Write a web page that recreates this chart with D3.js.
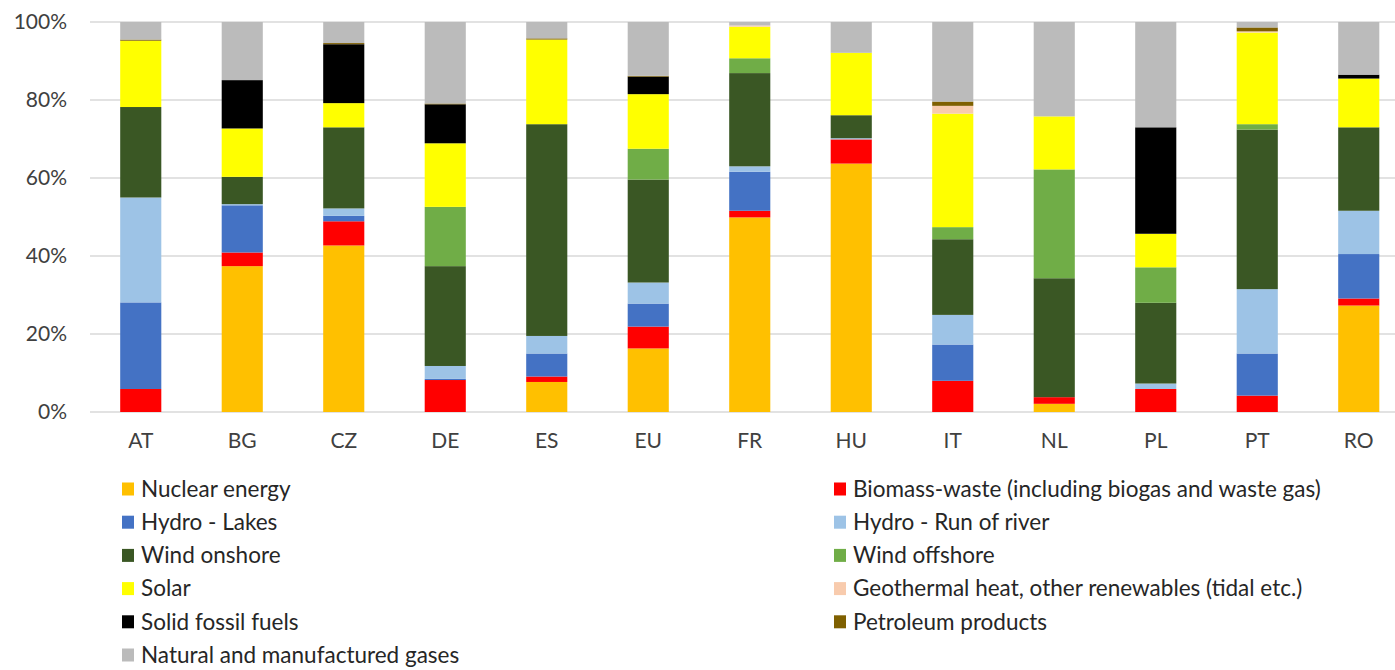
<!DOCTYPE html>
<html>
<head>
<meta charset="utf-8">
<script src="https://cdn.jsdelivr.net/npm/d3@7"></script>
<style>
  html, body { margin: 0; padding: 0; background: #fff; }
  svg { display: block; }
  text { font-family: "Lato", "Liberation Sans", sans-serif; }
</style>
</head>
<body>
<svg id="chart" width="1395" height="670"></svg>
<script>
// ---------- DATA ----------
const categories = ["AT","BG","CZ","DE","ES","EU","FR","HU","IT","NL","PL","PT","RO"];
const seriesNames = [
  "Nuclear energy",
  "Biomass-waste (including biogas and waste gas)",
  "Hydro - Lakes",
  "Hydro - Run of river",
  "Wind onshore",
  "Wind offshore",
  "Solar",
  "Geothermal heat, other renewables (tidal etc.)",
  "Solid fossil fuels",
  "Petroleum products",
  "Natural and manufactured gases"
];
const seriesColors = ["#FFC000","#FF0000","#4472C4","#9DC3E6","#3A5724","#70AD47","#FFFF00","#F8CBAD","#000000","#7F6000","#BBBBBB"];
//                    AT    BG    CZ    DE    ES    EU    FR    HU    IT    NL    PL    PT    RO
const nuclear      = [0.0, 37.4, 42.7,  0.0,  7.7, 16.3, 49.9, 63.7,  0.0,  2.1,  0.0,  0.0, 27.3];
const biomass      = [5.9,  3.5,  6.2,  8.2,  1.4,  5.6,  1.7,  6.2,  8.0,  1.7,  5.9,  4.2,  1.8];
const hydroLakes   = [22.2,12.1,  1.4,  0.3,  5.9,  5.9, 10.0,  0.0,  9.3,  0.0,  0.0, 10.8, 11.4];
const hydroRiver   = [26.9, 0.3,  1.9,  3.3,  4.5,  5.4,  1.4,  0.3,  7.6,  0.0,  1.4, 16.5, 11.1];
const windOnshore  = [23.2, 7.0, 20.8, 25.6, 54.3, 26.4, 23.9,  5.9, 19.4, 30.5, 20.7, 40.9, 21.4];
const windOffshore = [0.0,  0.0,  0.0, 15.2,  0.0,  7.9,  3.8,  0.0,  3.1, 27.9,  9.1,  1.4,  0.0];
const solar        = [17.0,12.4,  6.2, 16.3, 21.7, 14.0,  8.1, 16.0, 29.1, 13.6,  8.6, 23.5, 12.5];
const geothermal   = [0.0,  0.0,  0.0,  0.0,  0.0,  0.0,  0.3,  0.0,  2.0,  0.0,  0.0,  0.3,  0.0];
const solidFossil  = [0.0, 12.4, 15.1, 10.0,  0.0,  4.5,  0.0,  0.0,  0.0,  0.0, 27.3,  0.0,  1.0];
const petroleum    = [0.3,  0.0,  0.3,  0.2,  0.3,  0.2,  0.0,  0.0,  1.1,  0.0,  0.0,  1.0,  0.0];
const gases        = [4.5, 14.9,  5.4, 20.9,  4.2, 13.8,  0.9,  7.9, 20.4, 24.2, 27.0,  1.4, 13.5];
const yTicks = [0, 20, 40, 60, 80, 100];

const seriesValues = [nuclear, biomass, hydroLakes, hydroRiver, windOnshore, windOffshore, solar, geothermal, solidFossil, petroleum, gases];

// ---------- TABLE ----------
const table = categories.map((c, i) => {
  const row = { cat: c };
  seriesNames.forEach((s, k) => { row[s] = seriesValues[k][i]; });
  return row;
});

// ---------- CHART ----------
const svg = d3.select("#chart");
const plotLeft = 90, plotRight = 1409.5, plotTop = 22, plotBottom = 412;

const x = d3.scaleBand().domain(categories).range([plotLeft, plotRight]).paddingInner(0.595).paddingOuter(0.2975);
const y = d3.scaleLinear().domain([0, 100]).range([plotBottom, plotTop]);

// gridlines
svg.append("g").selectAll("line").data(yTicks).join("line")
  .attr("x1", plotLeft).attr("x2", 1395)
  .attr("y1", d => y(d)).attr("y2", d => y(d))
  .attr("stroke", "#d9d9d9").attr("stroke-width", 1.5);

// y axis labels
const yAxis = d3.axisLeft(y).tickValues(yTicks).tickFormat(d => d + "%").tickSize(0).tickPadding(0);
const gy = svg.append("g").attr("transform", "translate(67,0)").call(yAxis);
gy.select(".domain").remove();
gy.selectAll("text").attr("font-size", 21).attr("fill", "#404040").attr("font-family", "Lato, sans-serif");

// bars
const stack = d3.stack().keys(seriesNames);
const stacked = stack(table);
svg.append("g").selectAll("g").data(stacked).join("g")
  .attr("fill", (d, i) => seriesColors[i])
  .selectAll("rect").data(d => d).join("rect")
  .attr("x", d => x(d.data.cat))
  .attr("width", x.bandwidth())
  .attr("y", d => y(d[1]))
  .attr("height", d => Math.max(0, y(d[0]) - y(d[1])));

// x axis labels
const xAxis = d3.axisBottom(x).tickSize(0).tickPadding(0);
const gx = svg.append("g").attr("transform", `translate(0,${plotBottom + 21})`).call(xAxis);
gx.select(".domain").remove();
gx.selectAll("text").attr("font-size", 21).attr("fill", "#404040").attr("font-family", "Lato, sans-serif").attr("dy", "0.71em");

// legend
const legend = svg.append("g");
const legendItems = seriesNames.map((s, i) => ({ name: s, color: seriesColors[i], col: i % 2, row: Math.floor(i / 2) }));
const colX = [122, 834];
const rowY0 = 489, rowStep = 33.2;
const li = legend.selectAll("g").data(legendItems).join("g")
  .attr("transform", d => `translate(${colX[d.col]},${rowY0 + d.row * rowStep})`);
li.append("rect").attr("x", 0).attr("y", -6.5).attr("width", 12).attr("height", 13).attr("fill", d => d.color);
li.append("text").attr("x", 19).attr("y", 0).attr("dy", "0.35em")
  .attr("font-size", 22.5).attr("fill", "#262626").text(d => d.name);
</script>
</body>
</html>
